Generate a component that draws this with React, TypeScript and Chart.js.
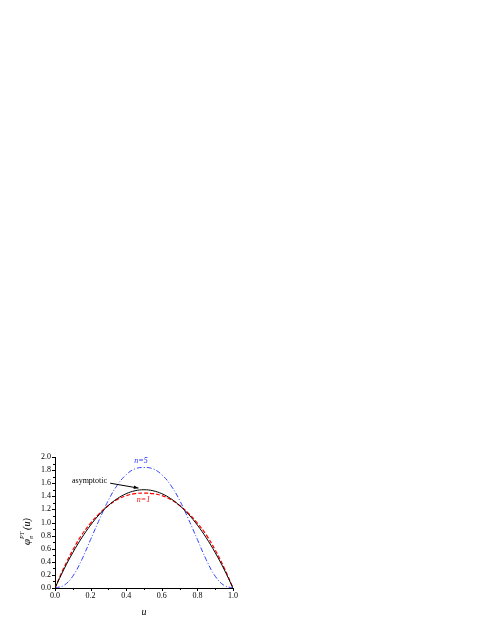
import React, { useEffect, useRef } from "react";
import { Chart, registerables } from "chart.js";

Chart.register(...registerables);

const uValues = [0, 0.05, 0.1, 0.15, 0.2, 0.25, 0.3, 0.35, 0.4, 0.45, 0.5, 0.55, 0.6, 0.65, 0.7, 0.75, 0.8, 0.85, 0.9, 0.95, 1.0];
const asymptotic = [0, 0.285, 0.54, 0.765, 0.96, 1.125, 1.26, 1.365, 1.44, 1.485, 1.5, 1.485, 1.44, 1.365, 1.26, 1.125, 0.96, 0.765, 0.54, 0.285, 0];
const n1 = [0, 0.31, 0.58, 0.81, 0.99, 1.14, 1.26, 1.35, 1.41, 1.44, 1.45, 1.44, 1.41, 1.35, 1.26, 1.14, 0.99, 0.81, 0.58, 0.31, 0];
const n5 = [0, 0.04, 0.18, 0.43, 0.74, 1.05, 1.34, 1.57, 1.73, 1.82, 1.84, 1.82, 1.73, 1.57, 1.34, 1.05, 0.74, 0.43, 0.18, 0.04, 0];
const xTickLabels = ["0.0", "0.2", "0.4", "0.6", "0.8", "1.0"];
const yTickLabels = ["0.0", "0.2", "0.4", "0.6", "0.8", "1.0", "1.2", "1.4", "1.6", "1.8", "2.0"];

const SERIF = "'Liberation Serif', 'DejaVu Serif', serif";

const decorPlugin = {
  id: "decor",
  afterDraw(chart: any) {
    const ctx = chart.ctx as CanvasRenderingContext2D;
    const xs = chart.scales.x;
    const ys = chart.scales.y;
    const area = chart.chartArea;
    ctx.save();
    ctx.strokeStyle = "#000";
    ctx.lineWidth = 1;
    // x ticks
    for (let i = 0; i <= 10; i++) {
      const v = i / 10;
      const px = Math.round(xs.getPixelForValue(v)) + 0.5;
      const len = i % 2 === 0 ? 3 : 2;
      ctx.beginPath();
      ctx.moveTo(px, area.bottom);
      ctx.lineTo(px, area.bottom + len);
      ctx.stroke();
    }
    // y ticks
    for (let i = 0; i <= 20; i++) {
      const v = i / 10;
      const py = Math.round(ys.getPixelForValue(v)) + 0.5;
      const len = i % 2 === 0 ? 3 : 2;
      ctx.beginPath();
      ctx.moveTo(area.left, py);
      ctx.lineTo(area.left - len, py);
      ctx.stroke();
    }
    // annotations
    ctx.textBaseline = "middle";
    ctx.textAlign = "center";
    ctx.font = `italic 8px ${SERIF}`;
    ctx.fillStyle = "#2233ff";
    ctx.fillText("n=5", xs.getPixelForValue(0.483), ys.getPixelForValue(1.94));
    ctx.fillStyle = "#ff0000";
    ctx.fillText("n=1", xs.getPixelForValue(0.497), ys.getPixelForValue(1.35));
    ctx.fillStyle = "#000";
    ctx.font = `8px ${SERIF}`;
    ctx.fillText("asymptotic", xs.getPixelForValue(0.194), ys.getPixelForValue(1.63));
    // arrow
    const x1 = xs.getPixelForValue(0.31), y1 = ys.getPixelForValue(1.60);
    const x2 = xs.getPixelForValue(0.469), y2 = ys.getPixelForValue(1.525);
    ctx.beginPath();
    ctx.moveTo(x1, y1);
    ctx.lineTo(x2, y2);
    ctx.stroke();
    const ang = Math.atan2(y2 - y1, x2 - x1);
    ctx.beginPath();
    ctx.moveTo(x2, y2);
    ctx.lineTo(x2 - 5 * Math.cos(ang - 0.35), y2 - 5 * Math.sin(ang - 0.35));
    ctx.lineTo(x2 - 5 * Math.cos(ang + 0.35), y2 - 5 * Math.sin(ang + 0.35));
    ctx.closePath();
    ctx.fill();
    // x title
    ctx.font = `italic 10px ${SERIF}`;
    ctx.fillText("u", (area.left + area.right) / 2, 612);
    // y title (rotated)
    ctx.translate(27, 525);
    ctx.rotate(-Math.PI / 2);
    ctx.textAlign = "left";
    let cx = -20;
    ctx.font = `italic 11px ${SERIF}`;
    ctx.fillText("\u03c6", cx, 0);
    cx += ctx.measureText("\u03c6").width;
    ctx.font = `italic 6px ${SERIF}`;
    ctx.fillText("\u03c0", cx, 4);
    ctx.fillText("PT", cx, -5);
    cx += ctx.measureText("PT").width + 2;
    ctx.font = `italic 10px ${SERIF}`;
    ctx.fillText("(u)", cx, 0);
    ctx.restore();
  },
};

export default function App() {
  const ref = useRef<HTMLCanvasElement>(null);
  useEffect(() => {
    if (!ref.current) return;
    const chart = new Chart(ref.current, {
      type: "line",
      data: {
        labels: uValues,
        datasets: [
          {
            label: "asymptotic",
            data: uValues.map((u, i) => ({ x: u, y: asymptotic[i] })),
            borderColor: "#000000",
            borderWidth: 1,
            pointRadius: 0,
            tension: 0.4,
          },
          {
            label: "n=1",
            data: uValues.map((u, i) => ({ x: u, y: n1[i] })),
            borderColor: "#ff0000",
            borderWidth: 1.2,
            borderDash: [4, 2],
            pointRadius: 0,
            tension: 0.4,
          },
          {
            label: "n=5",
            data: uValues.map((u, i) => ({ x: u, y: n5[i] })),
            borderColor: "#3344ff",
            borderWidth: 1,
            borderDash: [5, 2, 1, 2],
            pointRadius: 0,
            tension: 0.4,
          },
        ],
      },
      options: {
        responsive: false,
        animation: false,
        layout: { padding: { left: 0, right: 255, top: 457, bottom: 0 } },
        plugins: { legend: { display: false }, tooltip: { enabled: false } },
        scales: {
          x: {
            type: "linear",
            min: 0,
            max: 1,
            afterFit: (s: any) => { s.height = 44; },
            border: { display: true, color: "#000", width: 1 },
            grid: { display: false, drawTicks: false },
            ticks: {
              stepSize: 0.2,
              padding: 3,
              color: "#000",
              font: { family: SERIF, size: 8 },
              callback: (v: any) => {
                const i = Math.round(Number(v) / 0.2);
                return xTickLabels[i] ?? "";
              },
              maxRotation: 0,
            },
          },
          y: {
            type: "linear",
            min: 0,
            max: 2,
            afterFit: (s: any) => { s.width = 55; },
            border: { display: true, color: "#000", width: 1 },
            grid: { display: false, drawTicks: false },
            ticks: {
              stepSize: 0.2,
              padding: 4,
              color: "#000",
              font: { family: SERIF, size: 8 },
              callback: (v: any) => {
                const i = Math.round(Number(v) / 0.2);
                return yTickLabels[i] ?? "";
              },
            },
          },
        },
      },
      plugins: [decorPlugin],
    });
    return () => chart.destroy();
  }, []);
  return (
    <div style={{ position: "fixed", left: 0, top: 0, width: 488, height: 632, background: "#fff" }}>
      <canvas ref={ref} width={488} height={632} style={{ width: 488, height: 632 }} />
    </div>
  );
}
